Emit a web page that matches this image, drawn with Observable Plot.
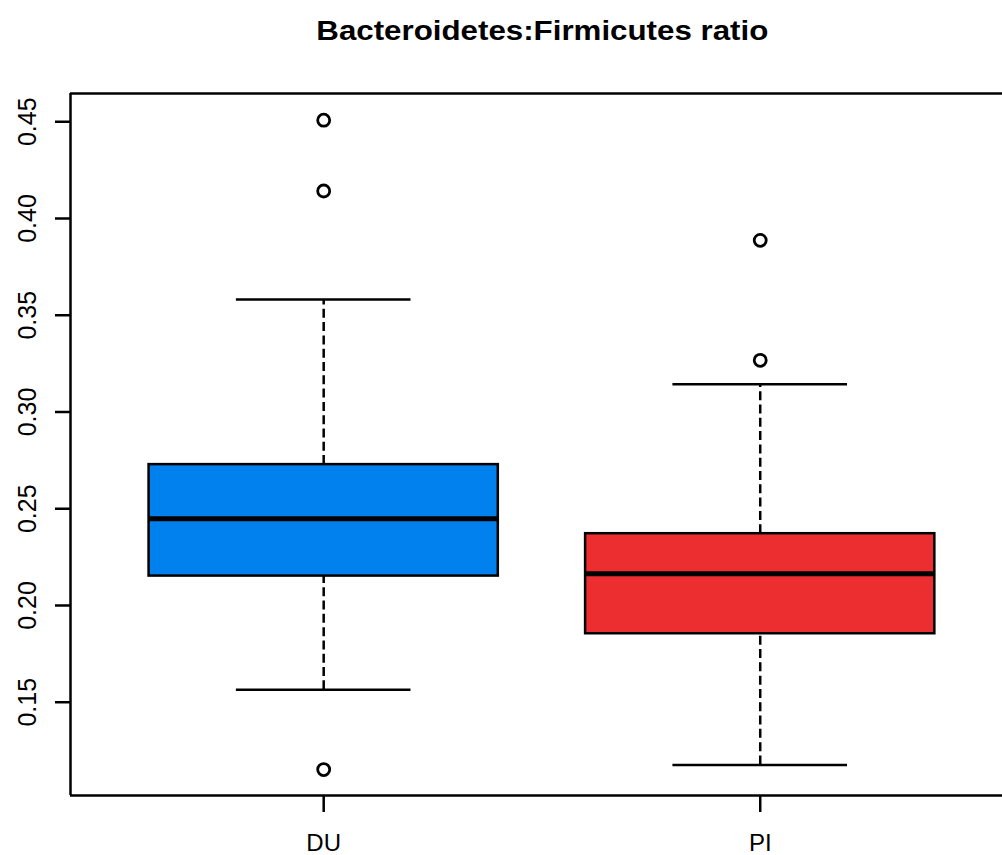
<!DOCTYPE html>
<html>
<head>
<meta charset="utf-8">
<script src="https://cdn.jsdelivr.net/npm/d3@7"></script>
<script src="https://cdn.jsdelivr.net/npm/@observablehq/plot@0.6"></script>
<style>
  html, body { margin: 0; padding: 0; background: #fff; }
  #wrap { position: relative; width: 1002px; height: 855px; overflow: hidden; font-family: "Liberation Sans", Arial, Helvetica, sans-serif; }
  #title { position: absolute; z-index: 2; left: 0; width: 1084px; top: 17px; text-align: center; font-weight: bold; font-size: 28px; line-height: 28px; color: #000; white-space: nowrap; }
  #title span { display: inline-block; transform-origin: center; }
  svg { position: absolute; left: 0; top: 0; z-index: 1; }
</style>
</head>
<body>
<div id="wrap"><div id="title"><span>Bacteroidetes:Firmicutes ratio</span></div></div>
<script>
// ---- data ----
const groups = ["DU", "PI"];
const colors = ["#0081ED", "#ED2E31"];
const lowerWhisker = [0.1564, 0.1176];
const q1 = [0.2152, 0.1854];
const median = [0.2448, 0.2164];
const q3 = [0.2728, 0.2371];
const upperWhisker = [0.3581, 0.3144];
const outlierGroup = ["DU", "DU", "DU", "PI", "PI"];
const outlierValue = [0.4508, 0.4142, 0.1152, 0.3887, 0.3267];
const yTicks = [0.15, 0.20, 0.25, 0.30, 0.35, 0.40, 0.45];

// ---- build tables ----
const boxW = 0.4;   // half box width (R default 0.8)
const capW = 0.2;   // half whisker cap width
const boxes = groups.map((g, i) => ({
  g, pos: i + 1, fill: colors[i],
  lw: lowerWhisker[i], q1: q1[i], med: median[i], q3: q3[i], uw: upperWhisker[i]
}));
const outliers = outlierGroup.map((g, i) => ({pos: groups.indexOf(g) + 1, v: outlierValue[i]}));

const xDomain = [0.42, 2.555];
const yDomain = [0.1018, 0.4646];

const chart = Plot.plot({
  width: 1002,
  height: 855,
  marginTop: 93,
  marginBottom: 60,
  marginLeft: 70,
  marginRight: 0,
  style: {fontFamily: "'Liberation Sans', Arial, Helvetica, sans-serif", fontSize: "24px", color: "#000", background: "transparent", overflow: "visible"},
  x: {type: "linear", domain: xDomain, axis: null},
  y: {domain: yDomain, axis: null},
  marks: [
    // whiskers (dashed)
    Plot.ruleX(boxes, {x: "pos", y1: "q3", y2: "uw", stroke: "black", strokeWidth: 2.5, strokeDasharray: "9,4.3"}),
    Plot.ruleX(boxes, {x: "pos", y1: "lw", y2: "q1", stroke: "black", strokeWidth: 2.5, strokeDasharray: "9,4.3"}),
    // whisker caps
    Plot.ruleY(boxes, {y: "uw", x1: d => d.pos - capW, x2: d => d.pos + capW, stroke: "black", strokeWidth: 2.5}),
    Plot.ruleY(boxes, {y: "lw", x1: d => d.pos - capW, x2: d => d.pos + capW, stroke: "black", strokeWidth: 2.5}),
    // boxes
    Plot.rect(boxes, {x1: d => d.pos - boxW, x2: d => d.pos + boxW, y1: "q1", y2: "q3", fill: d => d.fill, stroke: "black", strokeWidth: 2.5}),
    // medians
    Plot.ruleY(boxes, {y: "med", x1: d => d.pos - boxW, x2: d => d.pos + boxW, stroke: "black", strokeWidth: 5}),
    // outliers
    Plot.dot(outliers, {x: "pos", y: "v", r: 6, stroke: "black", strokeWidth: 2.8, fill: "none"}),
    // frame: top, bottom, left (right edge falls outside the picture)
    Plot.ruleY([yDomain[1]], {stroke: "black", strokeWidth: 2.5}),
    Plot.ruleY([yDomain[0]], {stroke: "black", strokeWidth: 2.5}),
    Plot.ruleX([xDomain[0]], {stroke: "black", strokeWidth: 2.5}),
    // y axis ticks
    Plot.axisY({ticks: yTicks, tickSize: 15, tickFormat: () => "", stroke: "black", strokeWidth: 2.5, label: null}),
    // y tick labels, rotated as in R
    Plot.text(yTicks, {y: d => d, frameAnchor: "left", text: d => d.toFixed(2), rotate: -90, dx: -35, lineAnchor: "bottom", textAnchor: "middle", fontSize: 25, fill: "black"}),
    // x axis
    Plot.axisX({ticks: [1, 2], tickFormat: i => groups[i - 1], tickSize: 17, tickPadding: 21, fontSize: 24, stroke: "black", strokeWidth: 2.5, label: null, fill: "black"})
  ]
});
document.getElementById("wrap").appendChild(chart);

// fit title width to the reference
const span = document.querySelector("#title span");
const w = span.getBoundingClientRect().width;
span.style.transform = `scaleX(${452 / w})`;
</script>
</body>
</html>
